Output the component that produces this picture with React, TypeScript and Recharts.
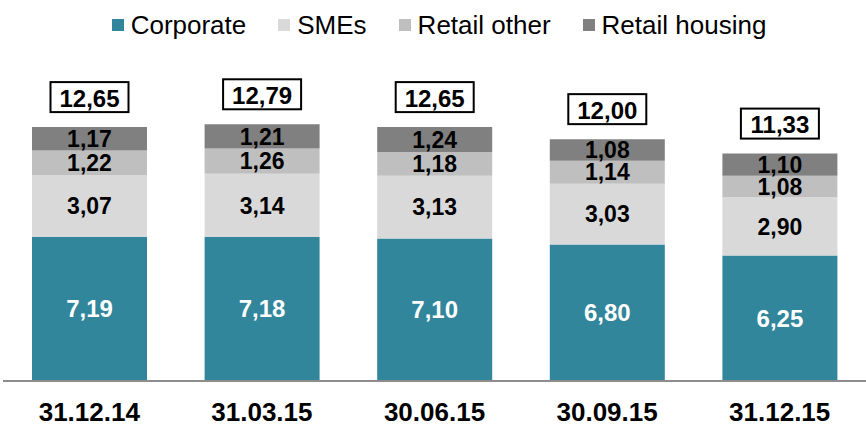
import React from 'react';
import { BarChart, Bar, XAxis, YAxis, Legend, LabelList } from 'recharts';

const categories = ['31.12.14', '31.03.15', '30.06.15', '30.09.15', '31.12.15'];
const corporate = [7.19, 7.18, 7.1, 6.8, 6.25];
const smes = [3.07, 3.14, 3.13, 3.03, 2.9];
const retailOther = [1.22, 1.26, 1.18, 1.14, 1.08];
const retailHousing = [1.17, 1.21, 1.24, 1.08, 1.1];
const totals = [12.65, 12.79, 12.65, 12.0, 11.33];

const seriesNames = ['Corporate', 'SMEs', 'Retail other', 'Retail housing'];
const seriesKeys = ['corporate', 'smes', 'retailOther', 'retailHousing'];
const seriesColors = ['#31869B', '#D9D9D9', '#BFBFBF', '#808080'];

const data = categories.map((c, i) => ({
  name: c,
  corporate: corporate[i],
  smes: smes[i],
  retailOther: retailOther[i],
  retailHousing: retailHousing[i],
  total: totals[i],
}));

const FONT = '"Liberation Sans", Arial, sans-serif';
const fmt = (v: any) => Number(v).toFixed(2).replace('.', ',');

const TotalLabel = (props: any) => {
  const { x, y, width, value } = props;
  const cx = Number(x) + Number(width) / 2;
  const boxW = 78;
  const boxH = 30;
  const top = Number(y) - 15 - boxH;
  return (
    <g>
      <rect x={cx - boxW / 2} y={top} width={boxW} height={boxH} fill="#fff" stroke="#000" strokeWidth={2} />
      <text x={cx} y={top + boxH / 2 + 1} textAnchor="middle" dominantBaseline="central" fontSize={24} fontWeight="bold" fontFamily={FONT} fill="#000">
        {fmt(value)}
      </text>
    </g>
  );
};

const LegendContent = () => (
  <div style={{ display: 'flex', justifyContent: 'center', alignItems: 'center', height: 50, paddingLeft: 12, fontFamily: FONT, fontSize: 26, color: '#000' }}>
    {seriesNames.map((n, i) => (
      <div key={n} style={{ display: 'flex', alignItems: 'center', marginRight: i < seriesNames.length - 1 ? 32 : 0 }}>
        <div style={{ width: 12, height: 12, background: seriesColors[i], marginRight: 7 }} />
        <span>{n}</span>
      </div>
    ))}
  </div>
);

export default function App() {
  return (
    <div style={{ position: 'absolute', left: 0, top: 0, width: 866, height: 433, background: '#fff' }}>
      <BarChart width={866} height={433} data={data} margin={{ top: 50, right: 0, left: 3, bottom: 0 }}>
        <Legend verticalAlign="top" align="left" wrapperStyle={{ top: 0, left: 0, width: 866, height: 50 }} content={LegendContent} />
        <YAxis hide domain={[0, 14]} />
        <XAxis
          dataKey="name"
          height={52}
          axisLine={{ stroke: '#8C8C8C', strokeWidth: 2 }}
          tickLine={false}
          tickMargin={16}
          tick={{ fill: '#000', fontSize: 26, fontWeight: 'bold', fontFamily: FONT }}
        />
        {seriesKeys.map((k, i) => (
          <Bar key={k} dataKey={k} name={seriesNames[i]} stackId="a" fill={seriesColors[i]} barSize={115} isAnimationActive={false}>
            <LabelList
              dataKey={k}
              position="center"
              formatter={fmt}
              fill={i === 0 ? '#fff' : '#000'}
              fontSize={i === 0 ? 24 : 23}
              fontWeight="bold"
              fontFamily={FONT}
            />
            {i === seriesKeys.length - 1 ? <LabelList dataKey="total" content={TotalLabel} /> : null}
          </Bar>
        ))}
      </BarChart>
    </div>
  );
}
